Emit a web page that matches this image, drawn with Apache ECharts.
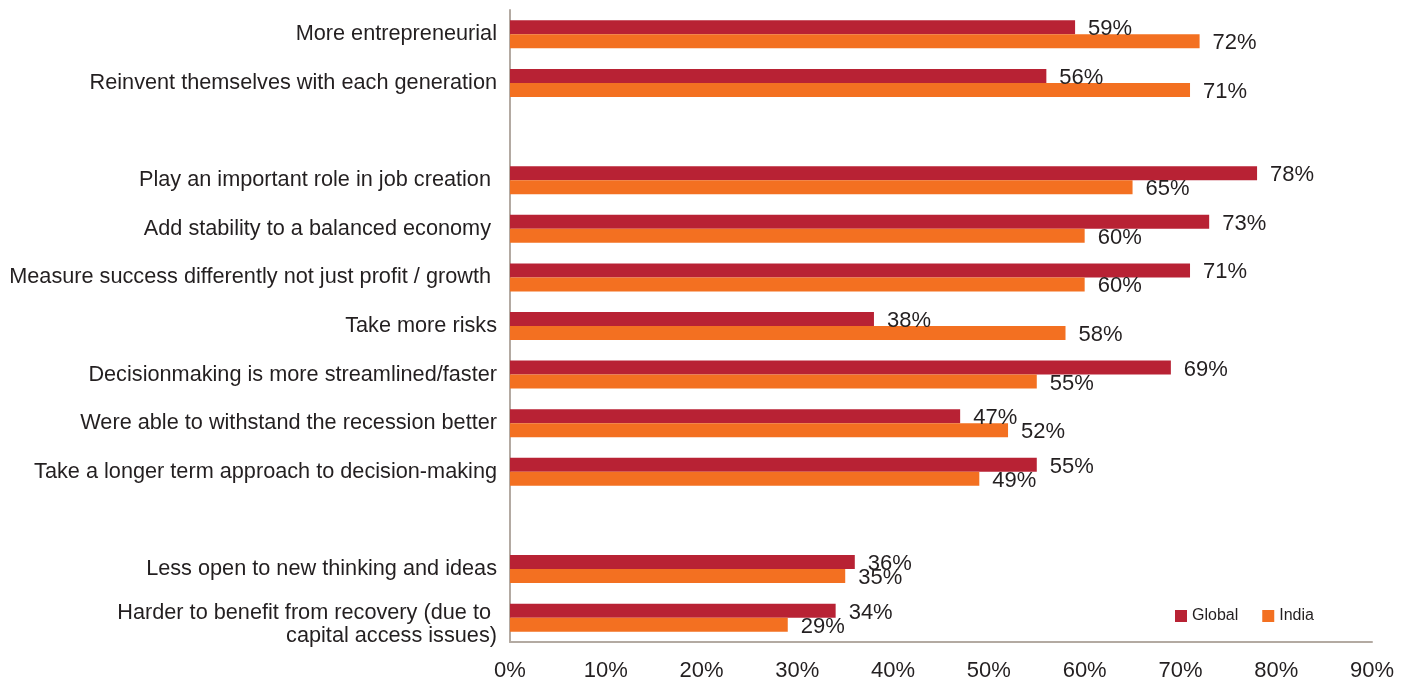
<!DOCTYPE html>
<html>
<head>
<meta charset="utf-8">
<script src="https://cdn.jsdelivr.net/npm/echarts@6/dist/echarts.min.js"></script>
<style>html,body{margin:0;padding:0;background:#fff;}#c{width:1410px;height:682px;}</style>
</head>
<body>
<div id="c"></div>
<script>
const categories = [
  'More entrepreneurial',
  'Reinvent themselves with each generation',
  '',
  'Play an important role in job creation ',
  'Add stability to a balanced economy ',
  'Measure success differently not just profit / growth ',
  'Take more risks',
  'Decisionmaking is more streamlined/faster',
  'Were able to withstand the recession better',
  'Take a longer term approach to decision-making',
  ' ',
  'Less open to new thinking and ideas',
  'Harder to benefit from recovery (due to \ncapital access issues)'
];
const globalValues = [59, 56, null, 78, 73, 71, 38, 69, 47, 55, null, 36, 34];
const indiaValues  = [72, 71, null, 65, 60, 60, 58, 55, 52, 49, null, 35, 29];
const xTicks = [0, 10, 20, 30, 40, 50, 60, 70, 80, 90];

const FONT = '"Liberation Sans", Arial, Helvetica, sans-serif';
const chart = echarts.init(document.getElementById('c'));
const valLabel = {
  show: true, position: 'right', distance: 13, offset: [0, 2],
  formatter: p => p.value == null ? '' : p.value + '%',
  color: '#231F20', fontSize: 22, fontFamily: FONT
};
chart.setOption({
  animation: false,
  grid: { left: 510, right: 38, top: 10, bottom: 40, containLabel: false },
  legend: {
    left: 1170, top: 603, itemWidth: 12, itemHeight: 12, itemGap: 24,
    icon: 'rect',
    textStyle: { fontSize: 16, fontFamily: FONT, color: '#231F20' },
    data: ['Global', 'India']
  },
  xAxis: {
    type: 'value', min: xTicks[0], max: xTicks[xTicks.length - 1], interval: 10,
    axisLine: { show: true, lineStyle: { color: '#B3AAA2', width: 2 } },
    axisTick: { show: false },
    splitLine: { show: false },
    axisLabel: { formatter: v => v + '%', fontSize: 22, fontFamily: FONT, color: '#231F20', margin: 18 }
  },
  yAxis: {
    type: 'category', data: categories, inverse: true,
    axisLine: { show: true, lineStyle: { color: '#B3AAA2', width: 2 } },
    axisTick: { show: false },
    axisLabel: {
      fontSize: 21.7, fontFamily: FONT, color: '#231F20', margin: 13,
      formatter: v => {
        if (v.indexOf('\n') < 0) return v;
        return '{sp| }\n' + v.split('\n').map(s => '{t|' + s + '}').join('\n');
      },
      rich: {
        sp: { fontSize: 2, lineHeight: 13 },
        t: { fontSize: 21.7, fontFamily: FONT, color: '#231F20', lineHeight: 23 }
      }
    }
  },
  series: [
    { name: 'Global', type: 'bar', data: globalValues, barWidth: 14, barGap: '0%',
      itemStyle: { color: '#B82234' }, label: valLabel, z: 2 },
    { name: 'India', type: 'bar', data: indiaValues, barWidth: 14, barGap: '0%',
      itemStyle: { color: '#F37021' }, label: valLabel, z: 2 }
  ]
});
</script>
</body>
</html>
